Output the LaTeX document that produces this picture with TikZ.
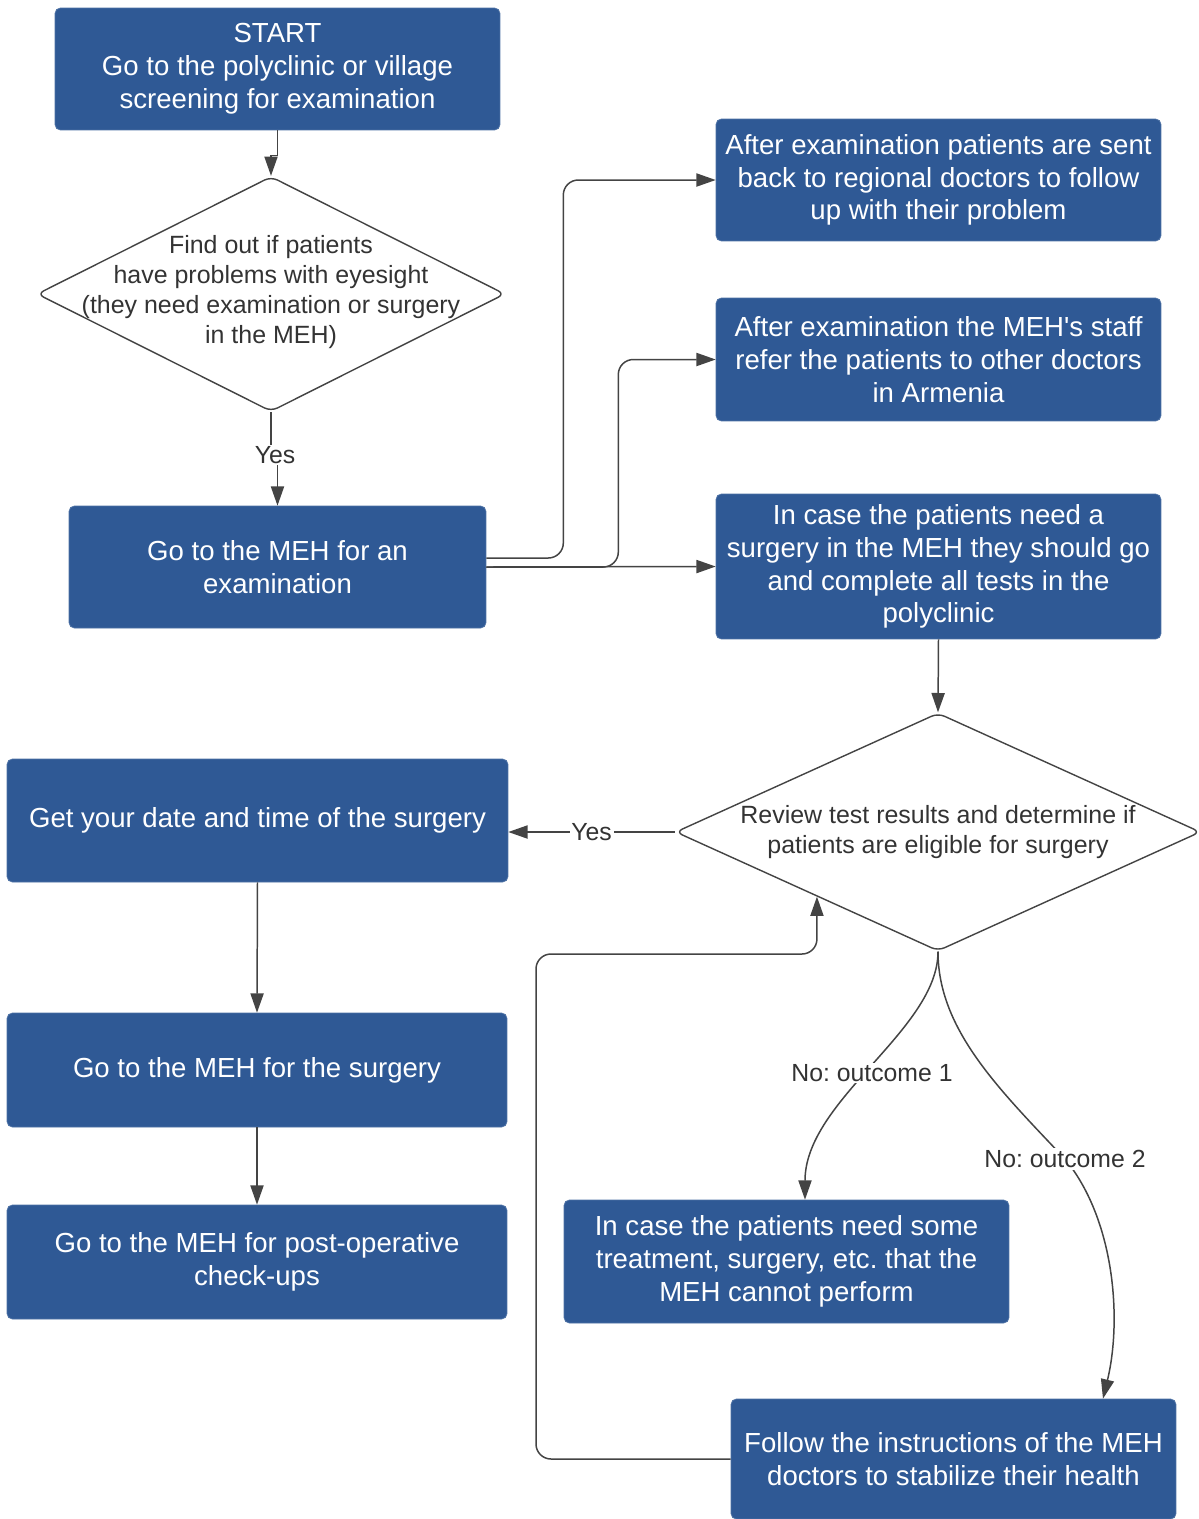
\documentclass[tikz,border=0pt]{standalone}
\usepackage{fontspec}
\setmainfont{Liberation Sans}[Ligatures=TeXOff]
\usetikzlibrary{shapes.geometric,arrows.meta,calc}
\definecolor{boxblue}{RGB}{47,89,149}
\definecolor{linegray}{RGB}{68,68,68}
\definecolor{txtgray}{RGB}{51,51,51}
\frenchspacing
\begin{document}
\begin{tikzpicture}[x=0.02cm,y=-0.02cm,
  box/.style={rectangle, rounded corners=3pt, fill=boxblue, draw=boxblue!85!white, line width=0.4pt,
    text=white, align=center, inner sep=0pt, font=\fontsize{15.7}{18.7}\selectfont},
  decision/.style={diamond, draw=linegray, line width=0.8pt, rounded corners=4pt, inner sep=0pt},
  dtext/.style={align=center, text=txtgray, font=\fontsize{14.2}{17}\selectfont},
  conn/.style={draw=linegray, line width=0.85pt, -{Triangle[length=11pt,width=7.5pt]}},
  elabel/.style={fill=white, text=txtgray, inner sep=1pt, font=\fontsize{14.1}{16}\selectfont}]
\fill[white] (0,0) rectangle (1199,1519);
\useasboundingbox (0,0) rectangle (1199,1519);

% nodes
\node[box, minimum width=8.9cm, minimum height=2.44cm] (A) at (277.5,69) {START\\Go to the polyclinic or village\\screening for examination};
\node[decision, minimum width=9.36cm, minimum height=4.7cm] (D1) at (271,294) {};
\node[dtext] (D1t) at (271,292) {Find out if patients\\have problems with eyesight\\(they need examination or surgery\\in the MEH)};
\node[box, minimum width=8.34cm, minimum height=2.44cm] (B) at (277.5,567) {Go to the MEH for an\\examination};
\node[box, minimum width=8.9cm, minimum height=2.44cm] (R1) at (938.5,180) {After examination patients are sent\\back to regional doctors to follow\\up with their problem};
\node[box, minimum width=8.9cm, minimum height=2.46cm] (R2) at (938.5,359.5) {After examination the MEH's staff\\refer the patients to other doctors\\in Armenia};
\node[box, minimum width=8.9cm, minimum height=2.9cm] (R3) at (938.5,566.5) {In case the patients need a\\surgery in the MEH they should go\\and complete all tests in the\\polyclinic};
\node[decision, minimum width=10.5cm, minimum height=4.76cm] (D2) at (938,832) {};
\node[dtext] (D2t) at (938,832) {Review test results and determine if\\patients are eligible for surgery};
\node[box, minimum width=10.02cm, minimum height=2.46cm] (C) at (257.5,820.5) {Get your date and time of the surgery};
\node[box, minimum width=10.0cm, minimum height=2.28cm] (E) at (257,1070) {Go to the MEH for the surgery};
\node[box, minimum width=10.0cm, minimum height=2.28cm] (F) at (257,1262) {Go to the MEH for post-operative\\check-ups};
\node[box, minimum width=8.9cm, minimum height=2.46cm] (G) at (786.5,1261.5) {In case the patients need some\\treatment, surgery, etc. that the\\MEH cannot perform};
\node[box, minimum width=8.9cm, minimum height=2.4cm] (H) at (953.5,1459) {Follow the instructions of the MEH\\doctors to stabilize their health};

% connectors
\draw[conn] (A.south) -- ++(0,25) -| (D1.north);
\draw[conn] (D1.south) -- ++(0,44) -| (B.north);
\node[elabel] (yes1) at (275,455) {Yes};

\draw[conn, rounded corners=0.3cm] (B.east) ++(0,-9) -- ++(77,0) |- (R1.west);
\draw[conn, rounded corners=0.3cm] (B.east) -- ++(132,0) |- (R2.west);
\draw[conn] (B.east) -- (R3.west);

\draw[conn] (R3.south) -- (D2.north);
\draw[conn] (D2.west) -- (D2.west -| C.east) node[elabel, midway] (yes2) {Yes};

\draw[conn] (C.south) -- (E.north);
\draw[conn] (E.south) -- (F.north);

\draw[conn] (D2.south) .. controls (938,1030) and (805,1100) .. ([xshift=0.37cm]G.north);
\node[elabel] (no1) at (872,1073) {No: outcome 1};

\draw[conn] (D2.south) .. controls (938,1030) and (1000,1090) .. (1065,1159)
  .. controls (1115,1220) and (1122,1320) .. ([xshift=2.99cm]H.north);
\node[elabel] (no2) at (1065,1159) {No: outcome 2};

\coordinate (loopend) at ($(D2.west)!0.54!(D2.south)$);
\draw[conn, rounded corners=0.3cm] (H.west) -| (536,954) -| (loopend);
\end{tikzpicture}
\end{document}
